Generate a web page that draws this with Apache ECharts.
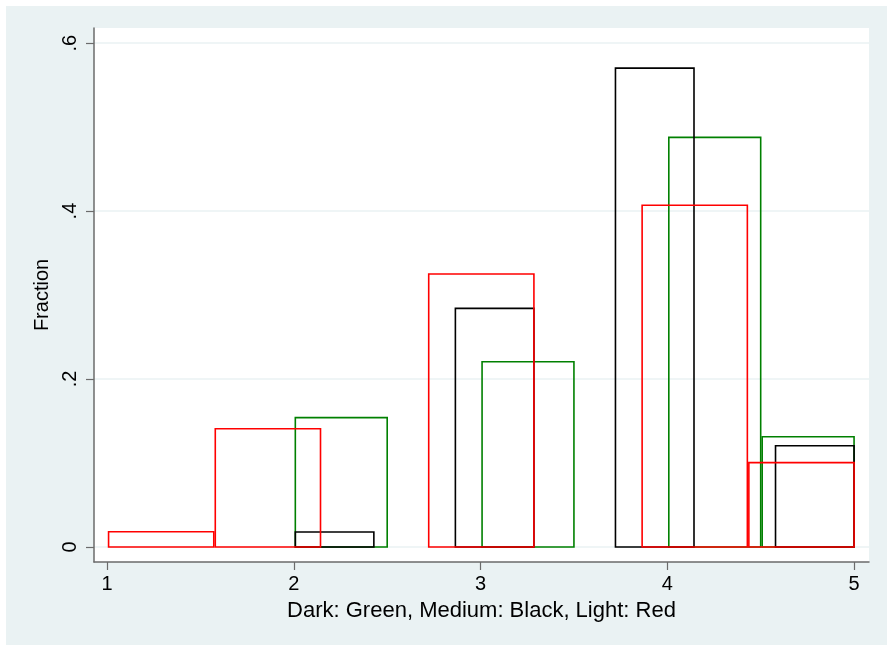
<!DOCTYPE html>
<html>
<head>
<meta charset="utf-8">
<script src="https://cdn.jsdelivr.net/npm/echarts@6/dist/echarts.min.js"></script>
<style>
  html, body { margin: 0; padding: 0; background: #ffffff; }
  #wrap { position: relative; width: 887px; height: 645px; background: #ffffff; }
  #chart { position: absolute; left: 6px; top: 6px; width: 881px; height: 639px; }
</style>
</head>
<body>
<div id="wrap"><div id="chart"></div></div>
<script>
// Bin edges and fractions
const greenEdges = [2, 2.5, 3, 3.5, 4, 4.5, 5];
const greenFraction = [0.154, 0, 0.2206, 0, 0.4877, 0.1313];

const blackEdges = [2, 2.4286, 2.8571, 3.2857, 3.7143, 4.1429, 4.5714, 5];
const blackFraction = [0.0179, 0, 0.2841, 0, 0.5702, 0, 0.1206];

const redEdges = [1, 1.5714, 2.1429, 2.7143, 3.2857, 3.8571, 4.4286, 5];
const redFraction = [0.0182, 0.1408, 0, 0.325, 0, 0.407, 0.1004];

const xTicks = [1, 2, 3, 4, 5];
const yTicks = [0, 0.2, 0.4, 0.6];

function bins(edges, frac) {
  const out = [];
  for (let i = 0; i < frac.length; i++) {
    if (frac[i] > 0) out.push([edges[i], edges[i + 1], frac[i]]);
  }
  return out;
}

function histSeries(name, edges, frac, color) {
  return {
    name: name,
    type: 'custom',
    silent: true,
    renderItem: function (params, api) {
      const p0 = api.coord([api.value(0), 0]);
      const p1 = api.coord([api.value(1), api.value(2)]);
      return {
        type: 'rect',
        shape: { x: p0[0] + 1.5, y: p1[1], width: p1[0] - p0[0] - 1.5, height: p0[1] - p1[1] },
        style: { fill: 'none', stroke: color, lineWidth: 1.6 }
      };
    },
    encode: { x: [0, 1], y: 2 },
    data: bins(edges, frac)
  };
}

const chart = echarts.init(document.getElementById('chart'), null, { renderer: 'canvas' });
chart.setOption({
  backgroundColor: '#eaf2f3',
  animation: false,
  textStyle: { fontFamily: 'Liberation Sans, Arial, sans-serif' },
  grid: {
    left: 88, top: 22, width: 775, height: 534,
    show: true, backgroundColor: '#ffffff', borderWidth: 0
  },
  xAxis: {
    type: 'value',
    min: 0.93, max: 5.08,
    name: 'Dark: Green, Medium: Black, Light: Red',
    nameLocation: 'middle',
    nameGap: 38,
    nameTextStyle: { fontSize: 22, color: '#000' },
    axisLine: { show: true, onZero: false, lineStyle: { color: '#6b6b6b', width: 1.5 } },
    axisTick: { show: true, length: 8, customValues: xTicks, lineStyle: { color: '#6b6b6b', width: 1.2 } },
    axisLabel: { customValues: xTicks, fontSize: 20, color: '#000', margin: 12 },
    splitLine: { show: false }
  },
  yAxis: {
    type: 'value',
    min: -0.0179, max: 0.618,
    name: 'Fraction',
    nameLocation: 'middle',
    nameGap: 33,
    nameRotate: 90,
    nameTextStyle: { fontSize: 20, color: '#000' },
    axisLine: { show: true, onZero: false, lineStyle: { color: '#6b6b6b', width: 1.5 } },
    axisTick: { show: true, length: 8, customValues: yTicks, lineStyle: { color: '#6b6b6b', width: 1.2 } },
    axisLabel: {
      customValues: yTicks, fontSize: 20, color: '#000', rotate: 90, margin: 14,
      formatter: function (v) { return v === 0 ? '0' : String(+v.toFixed(2)).replace(/^0\./, '.'); }
    },
    splitLine: { show: true, lineStyle: { color: '#eaf2f3', width: 1.5 } }
  },
  series: [
    histSeries('Dark', greenEdges, greenFraction, '#008000'),
    histSeries('Medium', blackEdges, blackFraction, '#000000'),
    histSeries('Light', redEdges, redFraction, '#ff0000')
  ]
});
</script>
</body>
</html>
